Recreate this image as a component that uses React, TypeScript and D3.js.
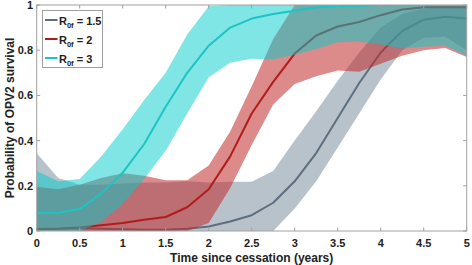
import React from "react";
import * as d3 from "d3";

const W = 472;
const H = 265;

const times = [0, 0.25, 0.5, 0.75, 1, 1.25, 1.5, 1.75, 2, 2.25, 2.5, 2.75, 3, 3.25, 3.5, 3.75, 4, 4.25, 4.5, 4.75, 5];

const r15Mean = [0.01, 0.01, 0.012, 0.01, 0.008, 0.006, 0.005, 0.01, 0.02, 0.042, 0.07, 0.125, 0.22, 0.345, 0.5, 0.655, 0.79, 0.885, 0.935, 0.948, 0.94];
const r15Upper = [0.344, 0.235, 0.205, 0.205, 0.21, 0.215, 0.215, 0.22, 0.215, 0.218, 0.218, 0.265, 0.4, 0.53, 0.665, 0.79, 0.9, 0.96, 0.985, 0.99, 0.99];
const r15Lower = [0, 0, 0, 0, 0, 0, 0, 0, 0, 0, 0, 0, 0.1, 0.22, 0.37, 0.52, 0.67, 0.8, 0.855, 0.86, 0.8];

const r2Mean = [0.008, 0.01, 0.015, 0.025, 0.035, 0.05, 0.062, 0.105, 0.185, 0.33, 0.52, 0.66, 0.785, 0.865, 0.905, 0.925, 0.955, 0.98, 0.99, 0.99, 0.99];
const r2Upper = [0.196, 0.185, 0.205, 0.235, 0.255, 0.245, 0.225, 0.225, 0.29, 0.44, 0.64, 0.85, 1, 1, 1, 1, 1, 1, 1, 1, 1];
const r2Lower = [0, 0, 0, 0, 0, 0, 0, 0, 0.035, 0.19, 0.38, 0.56, 0.65, 0.685, 0.71, 0.705, 0.74, 0.775, 0.8, 0.81, 0.77];

const r3Mean = [0.08, 0.081, 0.098, 0.165, 0.258, 0.385, 0.55, 0.7, 0.82, 0.9, 0.94, 0.96, 0.975, 0.99, 0.995, 0.997, 1, 1, 1, 1, 1];
const r3Upper = [0.265, 0.22, 0.23, 0.33, 0.45, 0.58, 0.7, 0.87, 0.995, 1, 1, 1, 1, 1, 1, 1, 1, 1, 1, 1, 1];
const r3Lower = [0, 0, 0, 0.04, 0.12, 0.23, 0.355, 0.52, 0.68, 0.745, 0.762, 0.76, 0.78, 0.805, 0.835, 0.838, 0.825, 0.808, 0.815, 0.82, 0.775];

const xTicks = [0, 0.5, 1, 1.5, 2, 2.5, 3, 3.5, 4, 4.5, 5];
const xTickLabels = ["0", "0.5", "1", "1.5", "2", "2.5", "3", "3.5", "4", "4.5", "5"];
const yTicks = [0, 0.2, 0.4, 0.6, 0.8, 1];
const yTickLabels = ["0", "0.2", "0.4", "0.6", "0.8", "1"];

const seriesNames = ["1.5", "2", "3"];

const FONT = "'Liberation Sans', Arial, Helvetica, sans-serif";

export default function App() {
  const x = d3.scaleLinear().domain([0, 5]).range([36.7, 466.7]);
  const y = d3.scaleLinear().domain([0, 1]).range([231, 5]);
  const [x0, x1] = x.range();
  const [y0, y1] = y.range();

  const series = [
    { name: seriesNames[0], mean: r15Mean, up: r15Upper, lo: r15Lower, line: "#5d6e7f", fill: "#6b7f93", alpha: 0.48 },
    { name: seriesNames[1], mean: r2Mean, up: r2Upper, lo: r2Lower, line: "#b01c1c", fill: "#c02a2a", alpha: 0.55 },
    { name: seriesNames[2], mean: r3Mean, up: r3Upper, lo: r3Lower, line: "#1cc4c4", fill: "#00cccc", alpha: 0.5 },
  ];

  const area = d3
    .area<number>()
    .x((_, i) => x(times[i]))
    .y0((_, i) => 0)
    .y1((_, i) => 0);

  const line = d3.line<number>().x((_, i) => x(times[i])).y((d) => y(d));

  const tick = 3.5;

  return (
    <svg width={W} height={H} style={{ position: "absolute", left: 0, top: 0, background: "#fff" }}>
      <defs>
        <clipPath id="plotclip">
          <rect x={x0} y={y1} width={x1 - x0} height={y0 - y1} />
        </clipPath>
      </defs>
      <g clipPath="url(#plotclip)">
        {series.map((s) => {
          const a = d3
            .area<number>()
            .x((_, i) => x(times[i]))
            .y0((_, i) => y(s.lo[i]))
            .y1((_, i) => y(s.up[i]));
          return (
            <g key={s.name}>
              <path d={a(s.mean) || ""} fill={s.fill} fillOpacity={s.alpha} stroke="none" />
              <path d={line(s.mean) || ""} fill="none" stroke={s.line} strokeWidth={2} strokeLinejoin="round" />
            </g>
          );
        })}
      </g>
      {/* frame */}
      <rect x={x0} y={y1} width={x1 - x0} height={y0 - y1} fill="none" stroke="#a0a0a0" strokeWidth={1} />
      {xTicks.map((t) => (
        <g key={"xt" + t}>
          <line x1={x(t)} x2={x(t)} y1={y0} y2={y0 - tick} stroke="#a0a0a0" />
          <line x1={x(t)} x2={x(t)} y1={y1} y2={y1 + tick} stroke="#a0a0a0" />
        </g>
      ))}
      {yTicks.map((t) => (
        <g key={"yt" + t}>
          <line x1={x0} x2={x0 + tick} y1={y(t)} y2={y(t)} stroke="#a0a0a0" />
          <line x1={x1} x2={x1 - tick} y1={y(t)} y2={y(t)} stroke="#a0a0a0" />
        </g>
      ))}
      {xTicks.map((t, i) => (
        <text key={"xl" + t} x={x(t)} y={247} textAnchor="middle" fontFamily={FONT} fontWeight="bold" fontSize={11} fill="#222">
          {xTickLabels[i]}
        </text>
      ))}
      {yTicks.map((t, i) => (
        <text key={"yl" + t} x={33} y={y(t) + 4} textAnchor="end" fontFamily={FONT} fontWeight="bold" fontSize={11} fill="#222">
          {yTickLabels[i]}
        </text>
      ))}
      <text x={(x0 + x1) / 2} y={261.5} textAnchor="middle" fontFamily={FONT} fontWeight="bold" fontSize={12} fill="#222">
        Time since cessation (years)
      </text>
      <text
        transform={`translate(13.5, ${(y0 + y1) / 2}) rotate(-90)`}
        textAnchor="middle"
        fontFamily={FONT}
        fontWeight="bold"
        fontSize={12}
        fill="#222"
      >
        Probability of OPV2 survival
      </text>
      {/* legend */}
      <rect x={42.5} y={10.5} width={60} height={57} fill="#fff" stroke="#a0a0a0" />
      {series.map((s, i) => {
        const ly = 20 + i * 19;
        return (
          <g key={"lg" + s.name}>
            <line x1={45} x2={57.5} y1={ly} y2={ly} stroke={s.line} strokeWidth={2} />
            <text x={59} y={ly + 4.5} fontFamily={FONT} fontWeight="bold" fontSize={11} fill="#222">
              R
              <tspan fontSize={7.5} dy={3}>0f</tspan>
              <tspan dy={-3}>{" = " + s.name}</tspan>
            </text>
          </g>
        );
      })}
    </svg>
  );
}
